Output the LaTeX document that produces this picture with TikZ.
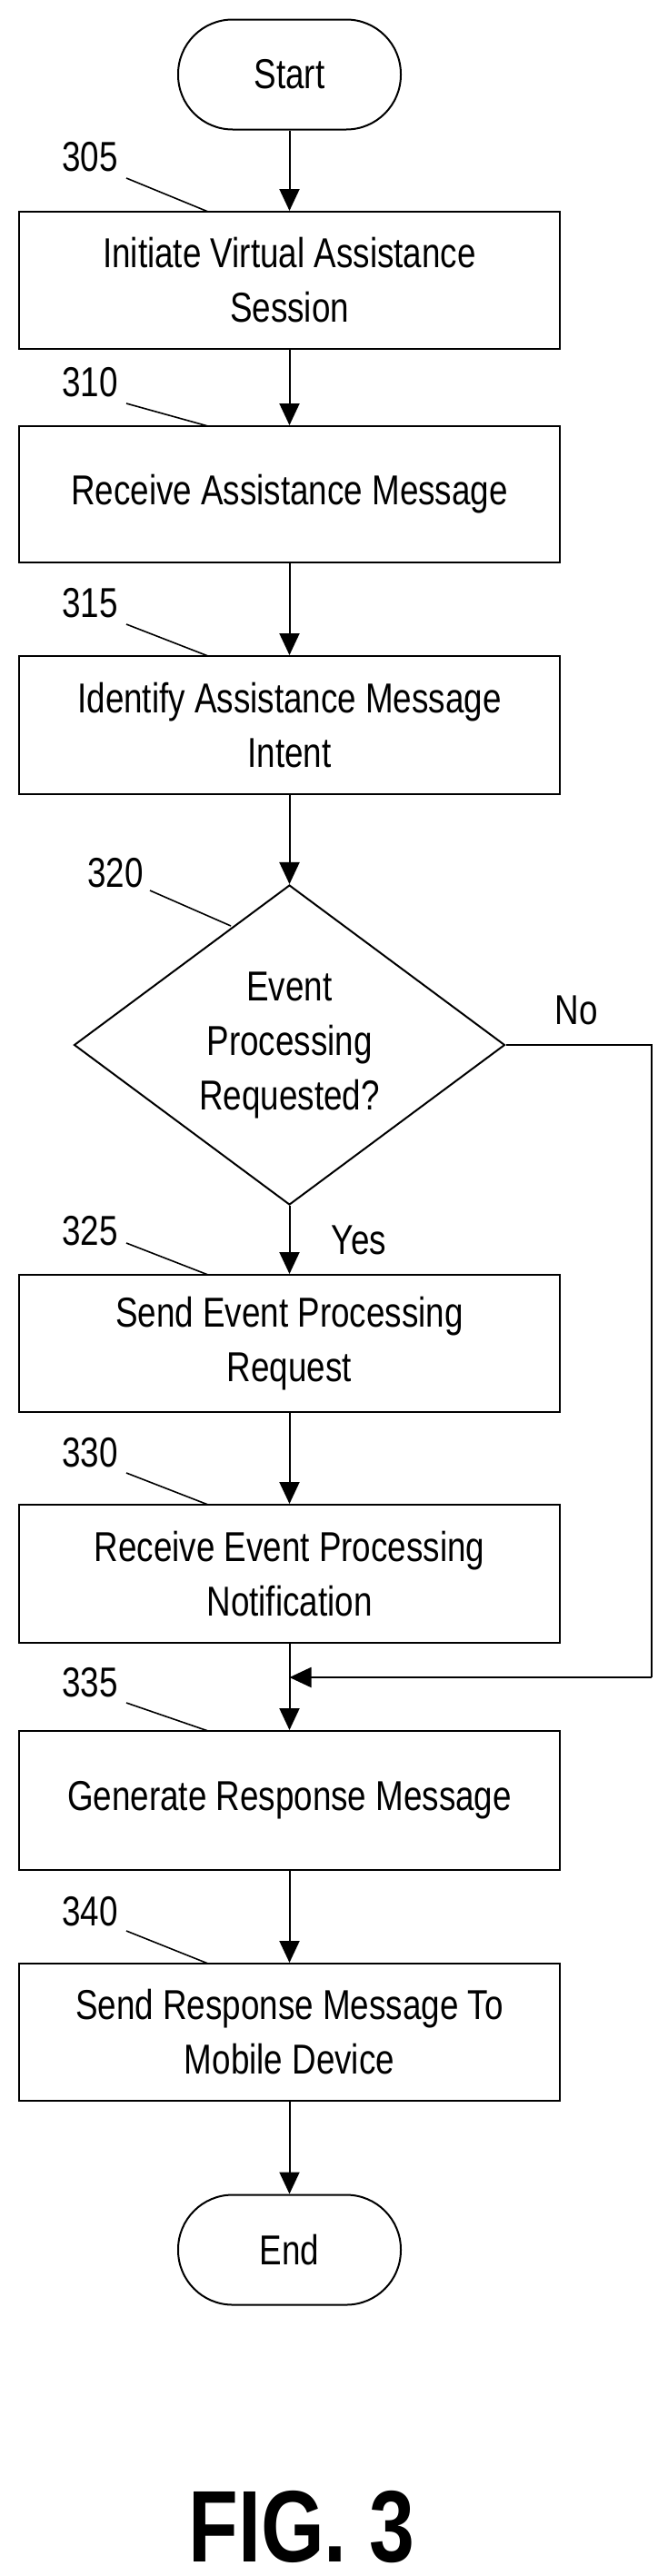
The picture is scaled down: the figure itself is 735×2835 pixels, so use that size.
\documentclass[tikz,border=0pt]{standalone}
\usepackage{xcolor}
\usepackage{fontspec}
\setmainfont{Liberation Sans}
\newfontfamily\narrow[FakeStretch=0.8]{Liberation Sans}
\usepackage{tikz}
\usetikzlibrary{arrows.meta,shapes.geometric}

\tikzset{
  box/.style={draw, line width=2pt, minimum width=595pt, inner sep=0pt, align=center, font=\narrow\fontsize{46}{60}\selectfont},
  term/.style={draw, line width=2pt, rounded corners=60pt, minimum width=245pt, minimum height=121pt, font=\narrow\fontsize{46}{60}\selectfont},
  flow/.style={line width=2pt, -{Triangle[width=22pt,length=24pt]}},
  tag/.style={font=\narrow\fontsize{46}{60}\selectfont},
  lead/.style={line width=1.6pt}
}

\begin{document}
\begin{tikzpicture}[x=1pt,y=-1pt]
          \useasboundingbox (0,0) rectangle (735,2835);

          \node[term] (start) at (318.5, 82) {Start};
          \node[box, minimum height=151pt] (s305) at (318.5, 308.5) {Initiate Virtual Assistance\\Session};
          \node[box, minimum height=150pt] (s310) at (318.5, 544) {Receive Assistance Message};
          \node[box, minimum height=152pt] (s315) at (318.5, 798) {Identify Assistance Message\\Intent};
          \node[diamond, draw, line width=2pt, minimum width=474pt, minimum height=352pt, inner sep=0pt, aspect=1.35, align=center, font=\narrow\fontsize{46}{60}\selectfont] (s320) at (318.5, 1150) {Event\\Processing\\Requested?};
          \node[box, minimum height=151pt] (s325) at (318.5, 1478.5) {Send Event Processing\\Request};
          \node[box, minimum height=152pt] (s330) at (318.5, 1732) {Receive Event Processing\\Notification};
          \node[box, minimum height=153pt] (s335) at (318.5, 1981.5) {Generate Response Message};
          \node[box, minimum height=151pt] (s340) at (318.5, 2236.5) {Send Response Message To\\Mobile Device};
          \node[term] (end) at (318.5, 2476) {End};

          % reference numerals
          \foreach \n\y\ly\ty [count=\i] in {305/173/196/233, 310/421/444/469, 315/664/687/722, 325/1355/1368/1403, 330/1599/1621/1656, 335/1852/1874/1905, 340/2104/2125/2161}{%
            \node[tag] (n\n) at (99, \y) {\n};
            \draw[lead] (139, \ly) -- (229, \ty);
          }
          \node[tag] (n320) at (127, 961) {320};
          \draw[lead] (165, 980) -- (254, 1019);

          \coordinate (join) at (318.5, 1846);
          \coordinate (rt) at (717, 1150);
          \coordinate (rb) at (717, 1846);

          \draw[flow] (start) -- (s305);
          \draw[flow] (s305) -- (s310);
          \draw[flow] (s310) -- (s315);
          \draw[flow] (s315) -- (s320);
          \draw[flow] (s320) -- (s325);
          \node[tag] (yes) at (395, 1365) {Yes};
          \draw[flow] (s325) -- (s330);
          \draw[flow] (s330) -- (s335);
          \draw[line width=2pt] (s320.east) -- (rt) -- (rb);
          \draw[flow] (rb) -- (join);
          \node[tag] (no) at (634, 1112) {No};
          \draw[flow] (s335) -- (s340);
          \draw[flow] (s340) -- (end);

          \node[font=\narrow\fontsize{112}{120}\selectfont\bfseries] (fig) at (332, 2781) {FIG. 3};
        \end{tikzpicture}
\end{document}
